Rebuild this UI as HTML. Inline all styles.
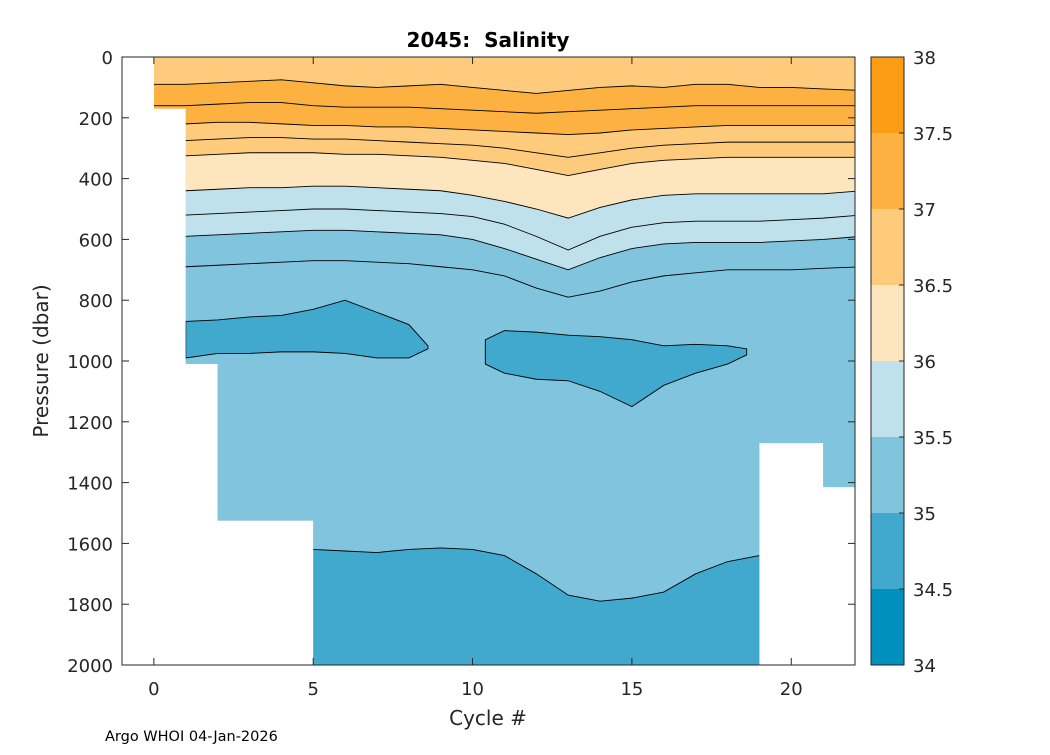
<!DOCTYPE html>
<html><head><meta charset="utf-8"><style>
body{margin:0;background:#fff;}
svg text{font-family:"DejaVu Sans","Liberation Sans",sans-serif;fill:#262626;white-space:pre;}
</style></head><body>
<svg id="chart" width="1050" height="750" xmlns="http://www.w3.org/2000/svg">
<defs><clipPath id="dataclip"><path id="clipPath"/></clipPath></defs>
<g id="plot" clip-path="url(#dataclip)"></g>
<g id="lines" clip-path="url(#dataclip)"></g>
<g id="axes"></g>
<g id="cbar"></g>
<text x="488" y="47" text-anchor="middle" font-size="20" font-weight="bold" style="fill:#000" xml:space="preserve">2045:  Salinity</text>
<text transform="translate(48,361) rotate(-90)" text-anchor="middle" font-size="20">Pressure (dbar)</text>
<text x="488" y="725" text-anchor="middle" font-size="20">Cycle #</text>
<text x="105" y="741" font-size="14.5" style="fill:#000">Argo WHOI 04-Jan-2026</text>
</svg>
<script>
const cycles=[0,1,2,3,4,5,6,7,8,9,10,11,12,13,14,15,16,17,18,19,20,21,22];
const profileStarts=[0,1,2,5,19,21];
const profileEnds=[1,2,5,19,21,22];
const profileMaxDepth=[170,1010,1525,2000,1270,1415];
const b1=[90,90,85,80,75,85,95,100,95,90,100,110,120,110,100,95,100,90,90,100,100,105,110];
const e1=[160,160,155,150,150,160,165,165,165,170,175,180,185,180,175,170,165,160,160,160,160,160,160];
const b2=[220,220,215,215,220,225,225,230,230,235,240,245,250,255,250,240,235,230,225,225,225,225,225];
const e2=[275,275,270,265,265,270,270,275,280,285,290,300,315,330,315,300,290,285,280,280,280,280,280];
const b3=[330,325,320,315,315,315,320,320,325,330,340,350,370,390,370,350,340,335,330,330,330,330,330];
const b4=[440,440,435,430,430,425,425,430,435,440,455,475,500,530,495,470,455,450,450,450,450,450,440];
const e4=[520,520,515,510,505,500,500,505,510,515,525,550,590,635,590,560,545,540,540,540,535,530,520];
const b5=[590,590,585,580,575,570,570,575,580,585,600,630,665,700,660,630,615,610,610,610,605,600,590];
const e5=[690,690,685,680,675,670,670,675,680,690,700,720,760,790,770,740,720,710,700,700,700,695,690];
const patch1Cycles=[1,2,3,4,5,6,7,8,8.6];
const patch1Top=[870,865,855,850,830,800,840,880,950];
const patch1Bottom=[990,975,975,970,970,975,990,990,960];
const patch2Cycles=[10.4,11,12,13,14,15,16,17,18,18.6];
const patch2Top=[930,900,905,915,920,930,950,945,950,960];
const patch2Bottom=[1010,1040,1060,1065,1100,1150,1080,1040,1010,980];
const deepCycles=[5,6,7,8,9,10,11,12,13,14,15,16,17,18,19];
const deepTop=[1620,1625,1630,1620,1615,1620,1640,1700,1770,1790,1780,1760,1700,1660,1640];
const cbLevels=[34,34.5,35,35.5,36,36.5,37,37.5,38];
const cbColors=["#0090bd","#40a9cd","#80c4de","#bfe1ec","#fde6bd","#fdcb7b","#fdb141","#fd9c15"];
const yTicks=[0,200,400,600,800,1000,1200,1400,1600,1800,2000];
const xTicks=[0,5,10,15,20];

const NS="http://www.w3.org/2000/svg";
const X0=122,X1=855,Y0=57,Y1=665;
const xs=c=>X0+(c+1)*(X1-X0)/23;
const ys=p=>Y0+p*(Y1-Y0)/2000;
function mk(tag,attrs,parent){const e=document.createElementNS(NS,tag);for(const k in attrs)e.setAttribute(k,attrs[k]);parent.appendChild(e);return e;}
const plot=document.getElementById('plot'),lines=document.getElementById('lines'),axes=document.getElementById('axes'),cbar=document.getElementById('cbar');

let cp="M"+xs(profileStarts[0])+","+ys(0);
profileStarts.forEach((s,i)=>{cp+=" L"+xs(s)+","+ys(profileMaxDepth[i])+" L"+xs(profileEnds[i])+","+ys(profileMaxDepth[i]);});
cp+=" L"+xs(profileEnds[profileEnds.length-1])+","+ys(0)+" Z";
document.getElementById('clipPath').setAttribute('d',cp);

function band(xc,top,bot,color,name){
  let d="M"+xc.map((c,i)=>xs(c)+","+ys(top[i])).join(" L");
  for(let i=xc.length-1;i>=0;i--)d+=" L"+xs(xc[i])+","+ys(bot[i]);
  const p=mk('path',{d:d+" Z",fill:color},plot);
  
  
}
function line(xc,arr,name,closeArr){
  let d="M"+xc.map((c,i)=>xs(c)+","+ys(arr[i])).join(" L");
  if(closeArr){for(let i=xc.length-1;i>=0;i--)d+=" L"+xs(xc[i])+","+ys(closeArr[i]);d+=" Z";}
  const p=mk('path',{d:d,fill:"none",stroke:"#000","stroke-width":0.9},lines);
  
  
}
const full=cycles.map(()=>0),bottom=cycles.map(()=>2000);
const cx=cycles.map(c=>c);cx[22]=22.2;
band(cx,full,bottom,cbColors[5],'band-36p5-37');
band(cx,b1,b2,cbColors[6],'band-37-37p5');
band(cx,b3,b4,cbColors[4],'band-36-36p5');
band(cx,b4,b5,cbColors[3],'band-35p5-36');
band(cx,b5,bottom,cbColors[2],'band-35-35p5');
band(patch1Cycles,patch1Top,patch1Bottom,cbColors[1],'patch-34p5-35-west');
band(patch2Cycles,patch2Top,patch2Bottom,cbColors[1],'patch-34p5-35-east');
band(deepCycles,deepTop,deepCycles.map(()=>2000),cbColors[1],'band-deep-34p5-35');
[[b1,'contour-b1'],[e1,'contour-e1'],[b2,'contour-b2'],[e2,'contour-e2'],[b3,'contour-b3'],[b4,'contour-b4'],[e4,'contour-e4'],[b5,'contour-b5'],[e5,'contour-e5']].forEach(a=>line(cx,a[0],a[1]));
line(patch1Cycles,patch1Top,'contour-patch-west',patch1Bottom);
line(patch2Cycles,patch2Top,'contour-patch-east',patch2Bottom);
line(deepCycles,deepTop,'contour-deep');

const box=mk('rect',{x:X0,y:Y0,width:X1-X0,height:Y1-Y0,fill:"none",stroke:"#262626","stroke-width":1},axes);

yTicks.forEach(t=>{
  const y=ys(t);
  mk('line',{x1:X0,x2:X0+7,y1:y,y2:y,stroke:"#262626"},axes);
  mk('line',{x1:X1,x2:X1-7,y1:y,y2:y,stroke:"#262626"},axes);
  const tx=mk('text',{x:X0-9,y:y+7,"text-anchor":"end","font-size":18},axes);tx.textContent=t;
  
});
xTicks.forEach(t=>{
  const x=xs(t);
  mk('line',{x1:x,x2:x,y1:Y1,y2:Y1-7,stroke:"#262626"},axes);
  mk('line',{x1:x,x2:x,y1:Y0,y2:Y0+7,stroke:"#262626"},axes);
  const tx=mk('text',{x:x,y:Y1+30,"text-anchor":"middle","font-size":18},axes);tx.textContent=t;
  
});

const CX=871,CW=33;
const cy=v=>Y1-(v-34)*(Y1-Y0)/4;
cbColors.forEach((c,i)=>{
  const r=mk('rect',{x:CX,y:cy(cbLevels[i+1]),width:CW,height:cy(cbLevels[i])-cy(cbLevels[i+1]),fill:c},cbar);
  
});
mk('rect',{x:CX,y:Y0,width:CW,height:Y1-Y0,fill:"none",stroke:"#262626"},cbar);
cbLevels.forEach(v=>{
  const y=cy(v);
  mk('line',{x1:CX+CW-5,x2:CX+CW,y1:y,y2:y,stroke:"#262626"},cbar);
  const tx=mk('text',{x:913,y:y+7,"font-size":18},cbar);tx.textContent=v;
  
});
</script>
</body></html>
